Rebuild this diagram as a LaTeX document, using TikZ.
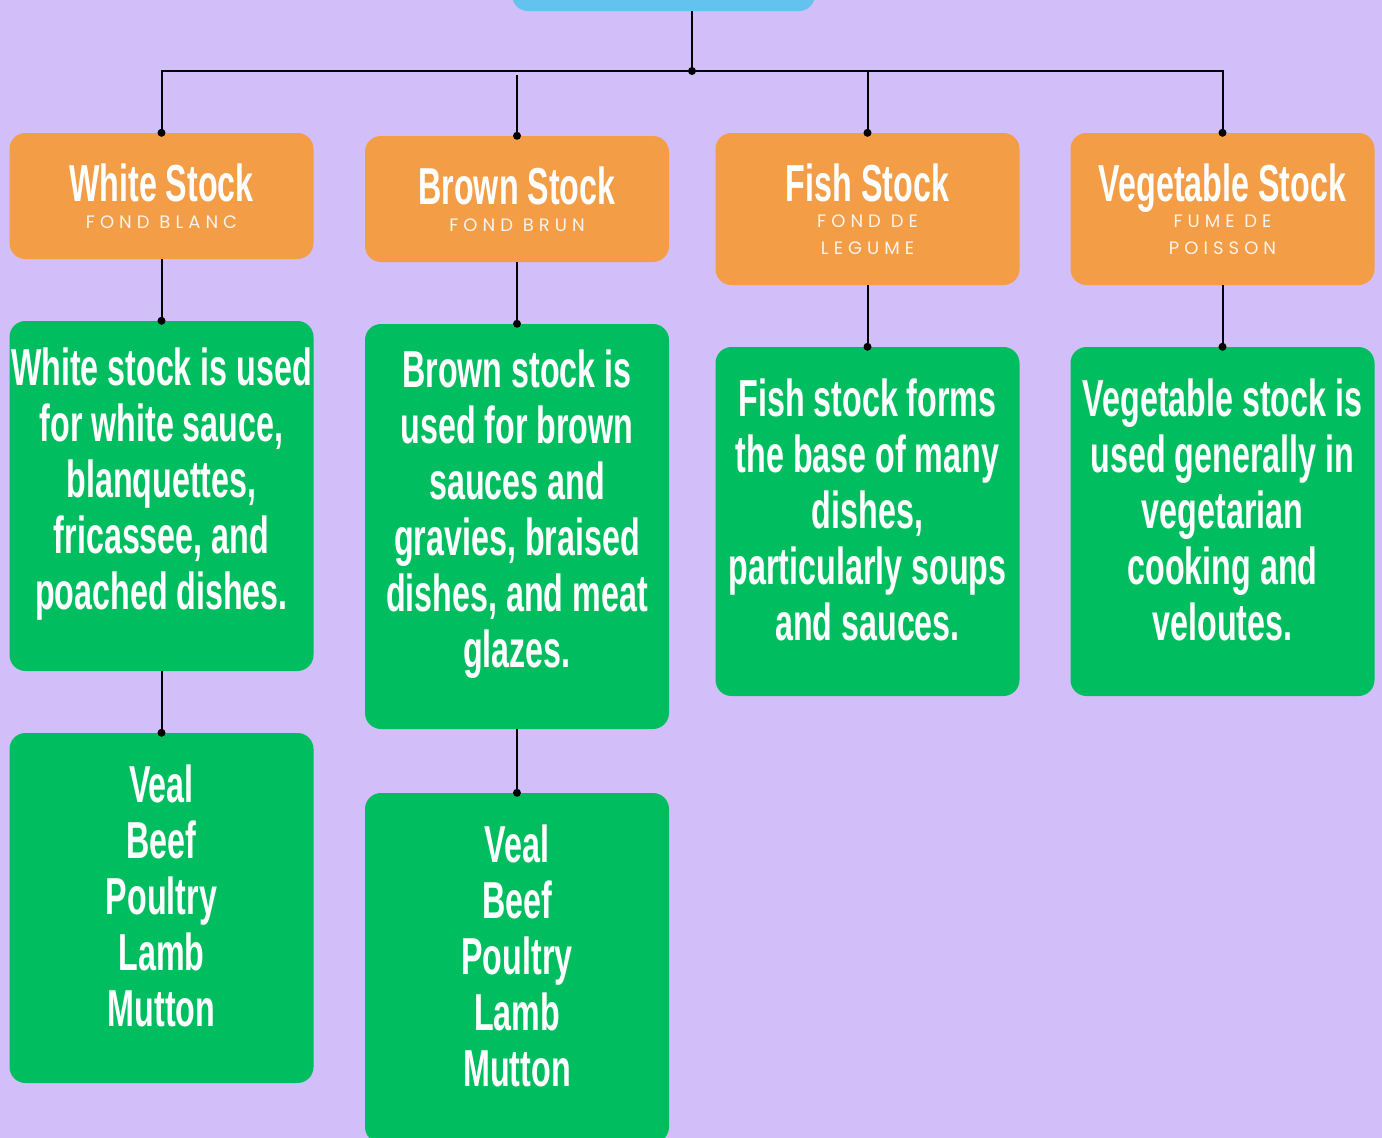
\documentclass[tikz,border=0pt]{standalone}
\usepackage{fontspec}
\setmainfont{Liberation Sans}
\newfontfamily\condfont{Liberation Sans}[FakeStretch=0.62]
\newfontfamily\subfont{Poppins}[LetterSpace=28]
\definecolor{bgc}{RGB}{210,190,249}
\definecolor{orng}{RGB}{243,157,71}
\definecolor{grn}{RGB}{0,190,96}
\definecolor{blu}{RGB}{99,195,238}
\definecolor{subc}{RGB}{250,244,238}
\newcommand{\ttl}[1]{{\fontsize{52}{27}\condfont\bfseries #1}}
\newcommand{\sbt}[1]{{\fontsize{18}{26}\subfont\color{subc}#1}}
\newcommand{\infotext}[2]{\parbox[c][#1][c]{304pt}{\centering\fontsize{52}{56}\condfont\bfseries #2\par\vspace{24pt}}}
\tikzset{
  card/.style={rounded corners=16, inner sep=0pt, align=center, text=white, minimum width=304},
  headbox/.style={card, fill=orng, font=\fontsize{18}{26.5}\selectfont},
  infobox/.style={card, fill=grn},
  conn/.style={draw=black, line width=2},
  jdot/.style={fill=black}
}
\begin{document}
\begin{tikzpicture}[x=1pt,y=-1pt]
\clip (0,0) rectangle (1382,1138);
\fill[bgc] (0,0) rectangle (1382,1138);
% top box
\node[card, fill=blu, minimum width=303, minimum height=62] (top) at (663.5,-20) {};
% heading boxes
\node[headbox, minimum height=126] (ws) at (161.5,196) {\ttl{White Stock}\\\sbt{FOND BLANC}};
\node[headbox, minimum height=126] (bs) at (517,199) {\ttl{Brown Stock}\\\sbt{FOND BRUN}};
\node[headbox, minimum height=152] (fs) at (867.5,209) {\ttl{Fish Stock}\\\sbt{FOND DE}\\\sbt{LEGUME}};
\node[headbox, minimum height=152] (vs) at (1222.5,209) {\ttl{Vegetable Stock}\\\sbt{FUME DE}\\\sbt{POISSON}};
% info boxes
\node[infobox, minimum height=350] (wg) at (161.5,496) {\infotext{350pt}{White stock is used\\for white sauce,\\blanquettes,\\fricassee, and\\poached dishes.}};
\node[infobox, minimum height=405] (bg) at (517,526.5) {\infotext{405pt}{Brown stock is\\used for brown\\sauces and\\gravies, braised\\dishes, and meat\\glazes.}};
\node[infobox, minimum height=349] (fg) at (867.5,521.5) {\infotext{349pt}{Fish stock forms\\the base of many\\dishes,\\particularly soups\\and sauces.}};
\node[infobox, minimum height=349] (vg) at (1222.5,521.5) {\infotext{349pt}{Vegetable stock is\\used generally in\\vegetarian\\cooking and\\veloutes.}};
% lists
\node[infobox, minimum height=350] (wl) at (161.5,908) {\infotext{350pt}{Veal\\Beef\\Poultry\\Lamb\\Mutton}};
\node[infobox, minimum height=350] (bl) at (517,968) {\infotext{350pt}{Veal\\Beef\\Poultry\\Lamb\\Mutton}};
% connectors
\coordinate (bus) at (692,71);
\coordinate (bjoin) at (517,75);
\draw[conn] (top.south -| bus) -- (bus);
\draw[conn] (ws.north) |- (vs.north |- bus) -- (vs.north);
\draw[conn] (bjoin) -- (bs.north);
\draw[conn] (fs.north |- bus) -- (fs.north);
\draw[conn] (ws.south) -- (wg.north);
\draw[conn] (bs.south) -- (bg.north);
\draw[conn] (fs.south) -- (fg.north);
\draw[conn] (vs.south) -- (vg.north);
\draw[conn] (wg.south) -- (wl.north);
\draw[conn] (bg.south) -- (bl.north);
\fill[jdot] (bus) circle (4);
\foreach \n in {ws,bs,fs,vs,wg,bg,fg,vg,wl,bl} \fill[jdot] (\n.north) circle (4);
\end{tikzpicture}
\end{document}
